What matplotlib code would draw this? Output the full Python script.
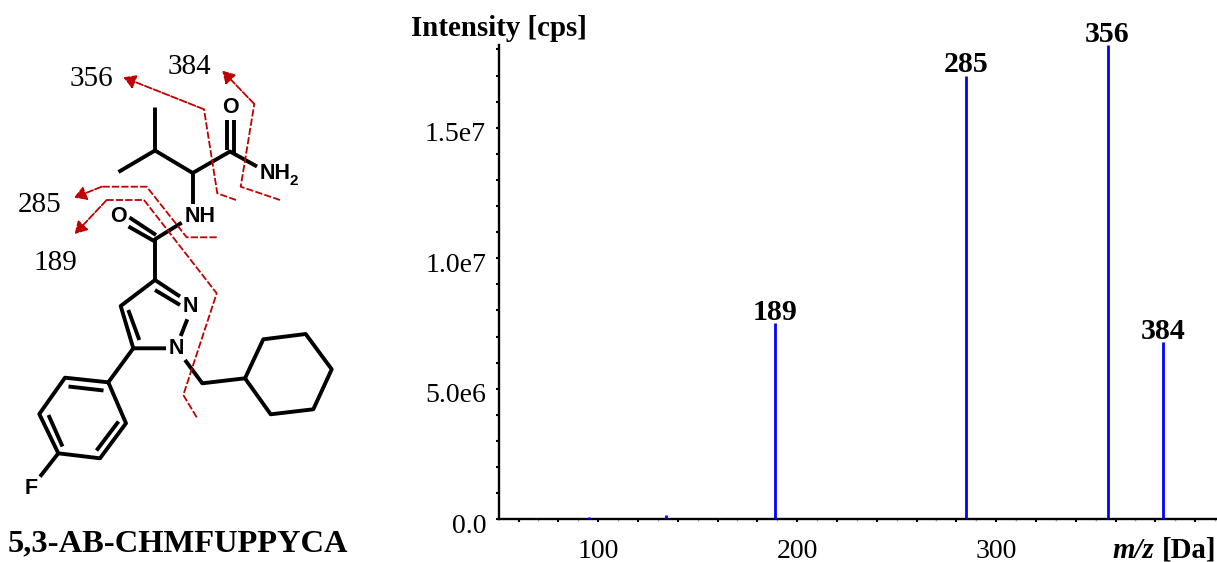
import matplotlib
matplotlib.use('Agg')
import matplotlib.pyplot as plt
from matplotlib.ticker import MultipleLocator, FormatStrFormatter
from matplotlib.transforms import ScaledTranslation

plt.rcParams['font.family'] = ['Liberation Serif', 'DejaVu Serif']

W, H = 1217, 562

# spectrum values
mz = [69, 95.5, 134, 161, 189, 285, 356, 384]
intensity = [5e4, 1e5, 1.5e5, 5e4, 7.53e6, 1.70e7, 1.817e7, 6.8e6]
labelled_mz = [189, 285, 356, 384]
labelled_int = [7.53e6, 1.70e7, 1.817e7, 6.8e6]
x_ticks = [100, 200, 300]
x_faint_ticks = [70, 90, 110, 130, 150, 170, 190, 210, 230, 250, 270, 290, 310, 330, 350, 370, 390, 410]
y_ticks = [0, 5e6, 1e7, 1.5e7]
y_tick_labels = ['0.0', '5.0e6', '1.0e7', '1.5e7']

# molecule sketch, in picture pixels
bonds = [
    [(155, 107.5), (155, 150.5), (118.5, 172)],
    [(155, 150.5), (192.7, 173), (230, 151.5), (257, 166.5)],
    [(192.7, 173), (192.7, 204)],
    [(226.5, 119.5), (226.5, 150)],
    [(234, 119.5), (234, 153)],
    [(181.7, 222.7), (155, 239.3), (155, 281)],
    [(129.5, 217.5), (156, 235)],
    [(128.5, 226.5), (154, 241)],
    [(180, 296.5), (155, 280), (120.7, 306), (133.3, 348.3), (166, 348.3)],
    [(155, 290), (180, 305)],
    [(128.3, 310), (139.3, 340)],
    [(187.3, 319.3), (180.7, 336)],
    [(133.3, 348.3), (108.3, 382.3)],
    [(108.3, 382.3), (65, 377.7), (39.3, 414), (58.3, 453.3), (100, 458.3), (126, 423.3), (108.3, 382.3)],
    [(68.5, 386.5), (103.5, 390.5)],
    [(48.5, 415), (62.5, 446.5)],
    [(96.5, 450.5), (118.5, 421.5)],
    [(58.3, 453.3), (40, 476.7)],
    [(185, 360), (202.3, 383.3), (245, 378.3)],
    [(245, 378.3), (263.3, 339.3), (305.7, 334), (331.7, 369.3), (313.3, 409.3), (270.7, 414.3), (245, 378.3)],
]
atom_labels = [
    ('O', 230, 107.5), ('NH', 200, 216), ('O', 118, 217),
    ('N', 190, 306.5), ('N', 176.7, 349), ('F', 31, 488.5),
]
cleavages = [
    [(236, 200), (217.3, 193.3), (204, 109.3), (123.3, 77.3)],
    [(280, 200), (240.7, 186.7), (254.3, 104), (222.3, 70.7)],
    [(216.7, 237.3), (186.7, 237.3), (146.7, 186.7), (101.7, 186.7), (74, 197.7)],
    [(196.7, 417.3), (183.3, 395), (216.7, 293.3), (144, 200), (106.7, 200), (74.7, 234)],
]
fragment_labels = [('356', 91.7, 79.5), ('384', 189, 67.5), ('285', 40, 205.5), ('189', 55, 262.5)]

fig = plt.figure(figsize=(W / 100, H / 100), dpi=100)

# overlay in pixel coordinates for the structure and loose text
bg = fig.add_axes([0, 0, 1, 1])
bg.set_xlim(0, W)
bg.set_ylim(H, 0)
bg.axis('off')

for b in bonds:
    bg.plot([p[0] for p in b], [p[1] for p in b], color='black', lw=2.8,
            solid_joinstyle='round', solid_capstyle='butt')
for name, x, y in atom_labels:
    bg.text(x, y, name, family='Liberation Sans', weight='bold', fontsize=15.5,
            ha='center', va='center')
bg.text(259.5, 173.5, 'NH', family='Liberation Sans', weight='bold', fontsize=15.5, ha='left', va='center')
bg.text(290, 181, '2', family='Liberation Sans', weight='bold', fontsize=11, ha='left', va='center')

for c in cleavages:
    bg.plot([p[0] for p in c[:-1]], [p[1] for p in c[:-1]], color='#C00000', lw=1.3,
            dashes=(4, 1.2))
    bg.annotate('', xy=c[-1], xytext=c[-2],
                arrowprops=dict(arrowstyle='-|>,head_length=0.6,head_width=0.35', color='#C00000',
                                lw=1.3, ls=(0, (4, 1.2)), shrinkA=0, shrinkB=0, mutation_scale=12))
for name, x, y in fragment_labels:
    bg.text(x, y, name, fontsize=21, ha='center', va='center')

bg.text(8, 544, '5,3-AB-CHMFUPPYCA', fontsize=23.4, weight='bold', ha='left', va='center')
bg.text(411, 29, 'Intensity [cps]', fontsize=20.8, weight='bold', ha='left', va='center')
bg.text(1154, 550, 'm/z', fontsize=20.8, weight='bold', style='italic', ha='right', va='center')
bg.text(1216, 550, '[Da]', fontsize=20.8, weight='bold', ha='right', va='center')

# spectrum axes
left, right, top, bottom = 498.6, 1217, 45, 519.3
ax = fig.add_axes([left / W, 1 - bottom / H, (right - left) / W, (bottom - top) / H])
ax.patch.set_alpha(0)
ax.set_xlim(50, 50 + (right - left) / 1.99)
ax.set_ylim(0, 1.817e7)

ax.vlines(mz, 0, intensity, color='#0000FF', lw=2, zorder=3)
for x, y in zip(labelled_mz, labelled_int):
    ax.annotate(str(x), (x, y), xytext=(0, -2), textcoords='offset points', ha='center', va='bottom',
                fontsize=21.5, weight='bold', annotation_clip=False)

ax.spines['top'].set_visible(False)
ax.spines['right'].set_visible(False)
ax.spines['left'].set_linewidth(1.7)
ax.spines['bottom'].set_linewidth(1.7)

ax.set_xticks(x_ticks)
ax.xaxis.set_minor_locator(MultipleLocator(20))
ax.xaxis.set_major_formatter(FormatStrFormatter('%d'))
ax.set_yticks(y_ticks, y_tick_labels)
ax.yaxis.set_minor_locator(MultipleLocator(1e6))
ax.tick_params(axis='both', which='both', length=2.5, width=1.5, labelsize=20)
ax.tick_params(axis='x', pad=11.5)
ax.tick_params(axis='y', pad=6.5)

# faint in-between ticks on the m/z axis
sec = ax.secondary_xaxis('bottom')
sec.spines['bottom'].set_visible(False)
sec.set_xticks(x_faint_ticks, [''] * len(x_faint_ticks))
sec.tick_params(length=1.5, width=1, color='#AAAAAA')

# y labels sit a little below their ticks in the original
for lab in ax.get_yticklabels():
    lab.set_transform(lab.get_transform() + ScaledTranslation(0, -3 / 72, fig.dpi_scale_trans))

fig.savefig('out.png', dpi=100)
